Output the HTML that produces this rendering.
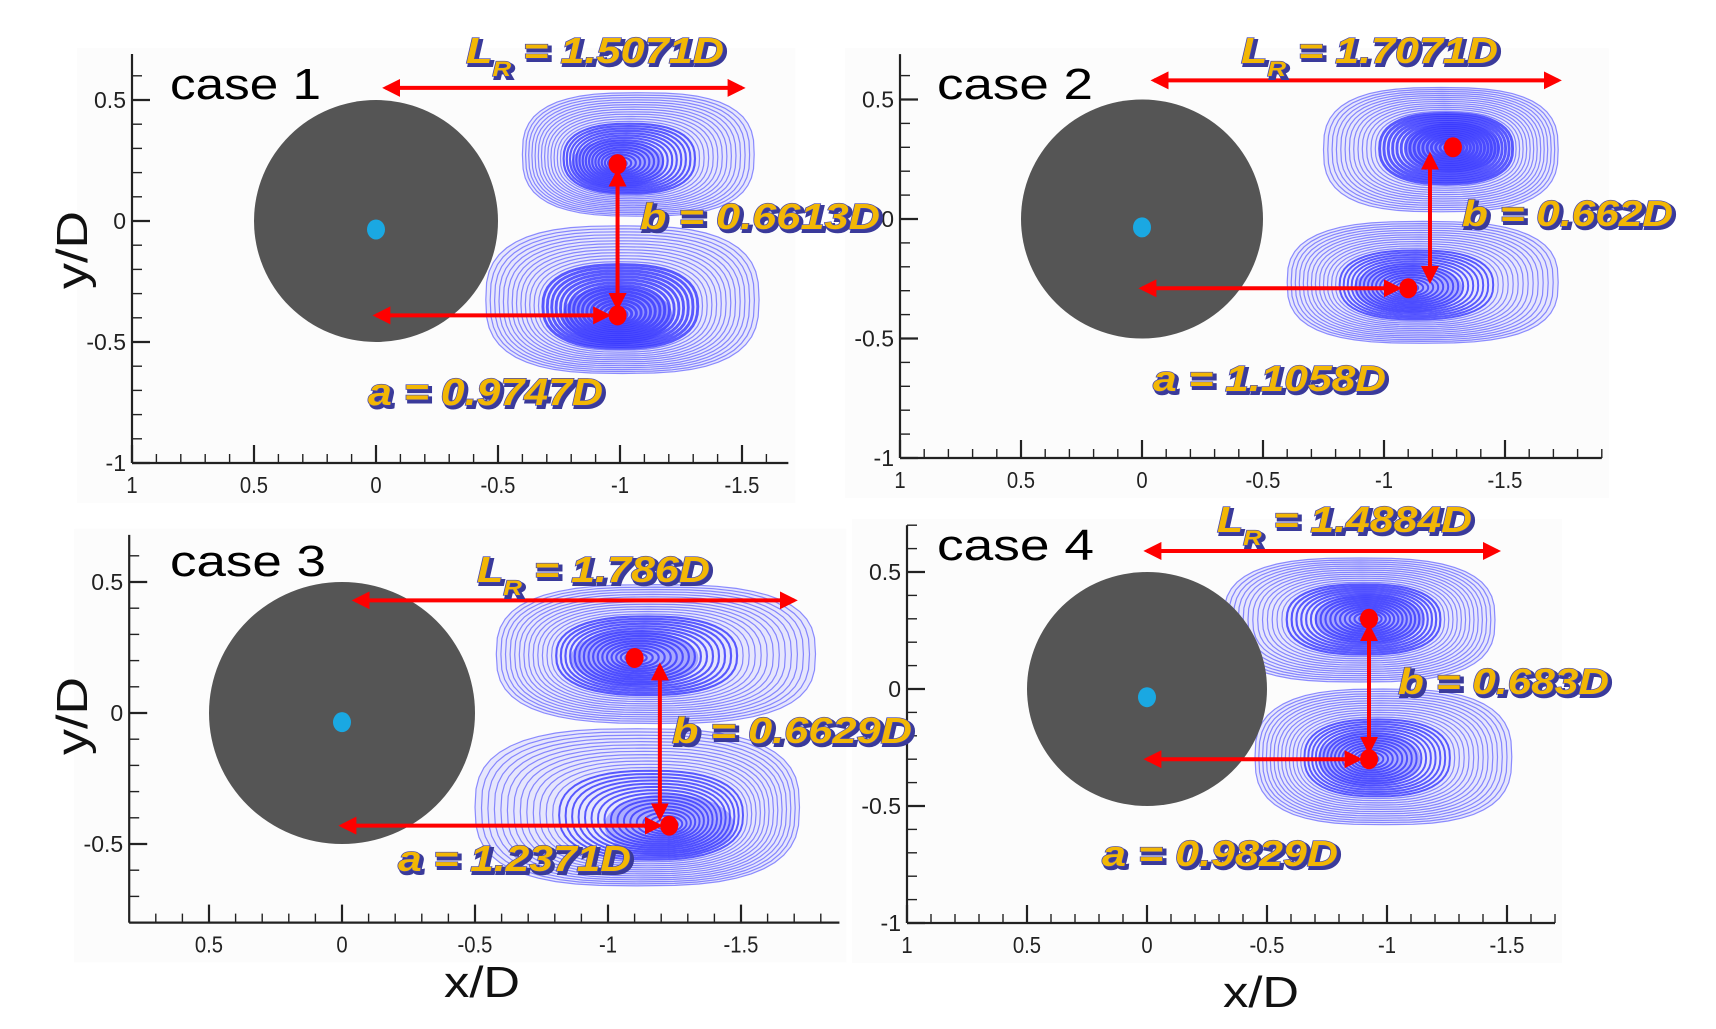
<!DOCTYPE html>
<html><head><meta charset="utf-8"><style>
html,body{margin:0;padding:0;background:#fff;}
svg{display:block;}
</style></head><body>
<svg id="fig" width="1716" height="1029" viewBox="0 0 1716 1029" xmlns="http://www.w3.org/2000/svg">
<defs>
<marker id="ah" viewBox="0 0 10 10" refX="8" refY="5" markerWidth="4.5" markerHeight="4.5" orient="auto-start-reverse"><path d="M0,0 L10,5 L0,10 z" fill="#ff0000"/></marker>
</defs>
<g id="bglayer"></g>
</svg>
<script>
// ---- data ----
const caseNames = ["case 1","case 2","case 3","case 4"];
const lrValues = [1.5071, 1.7071, 1.786, 1.4884];
const aValues = [0.9747, 1.1058, 1.2371, 0.9829];
const bValues = [0.6613, 0.662, 0.6629, 0.683];
const upperVortexX = [-0.99, -1.285, -1.10, -0.925];
const upperVortexY = [0.235, 0.30, 0.21, 0.30];
const lowerVortexX = [-0.99, -1.10, -1.23, -0.925];
const lowerVortexY = [-0.39, -0.29, -0.43, -0.30];
const bArrowX = [-0.99, -1.19, -1.195, -0.925];
const lrArrowY = [0.55, 0.58, 0.43, 0.59];
const lrArrowStart = [-0.04, -0.05, -0.05, 0.0];
const lrArrowEnd = [-1.50, -1.72, -1.70, -1.46];
// blob extents [xNear, xFar, yA, yB]
const upperBlob = [[-0.6,-1.55,0.53,0.02],[-0.75,-1.72,0.55,0.03],[-0.58,-1.78,0.49,-0.04],[-0.32,-1.45,0.56,0.03]];
const lowerBlob = [[-0.45,-1.57,-0.02,-0.63],[-0.6,-1.72,-0.01,-0.52],[-0.5,-1.72,-0.06,-0.66],[-0.45,-1.52,0.0,-0.58]];
const xTickLabels = [["1","0.5","0","-0.5","-1","-1.5"],["1","0.5","0","-0.5","-1","-1.5"],["0.5","0","-0.5","-1","-1.5"],["1","0.5","0","-0.5","-1","-1.5"]];
const xTickValues = [[1,0.5,0,-0.5,-1,-1.5],[1,0.5,0,-0.5,-1,-1.5],[0.5,0,-0.5,-1,-1.5],[1,0.5,0,-0.5,-1,-1.5]];
const yTickLabels = [["0.5","0","-0.5","-1"],["0.5","0","-0.5","-1"],["0.5","0","-0.5"],["0.5","0","-0.5","-1"]];
const yTickValues = [[0.5,0,-0.5,-1],[0.5,0,-0.5,-1],[0.5,0,-0.5],[0.5,0,-0.5,-1]];

// ---- layout (pixels) ----
const panels = [
 {x0:376,y0:221,sx:244,sy:242,xl:1,xr:-1.69,yt:0.69,yb:-1,
  caseT:[170,99,151,44],lrT:[466,63,258,36],bT:[640,229,240,36],aT:[368,405,235,38]},
 {x0:1142,y0:219,sx:242,sy:239,xl:1,xr:-1.9,yt:0.69,yb:-1,
  caseT:[937,99,156,44],lrT:[1241,63,257,36],bT:[1462,226,211,36],aT:[1153,391,233,36]},
 {x0:342,y0:713,sx:266,sy:262,xl:0.8,xr:-1.87,yt:0.68,yb:-0.8,
  caseT:[170,576,156,44],lrT:[477,582,233,36],bT:[672,743,240,36],aT:[398,871,233,36]},
 {x0:1147,y0:689,sx:240,sy:234,xl:1,xr:-1.7,yt:0.70,yb:-1,
  caseT:[937,560,157,44],lrT:[1217,532,255,36],bT:[1398,694,211,36],aT:[1102,866,236,36]}
];
const NS = "http://www.w3.org/2000/svg";
const svg = document.getElementById('fig');
const bgLayer = document.getElementById('bglayer');
function mk(tag, attrs, parent){
  const e = document.createElementNS(NS, tag);
  for (const k in attrs) e.setAttribute(k, attrs[k]);
  (parent||svg).appendChild(e);
  return e;
}
function goldText(g, str, sub, rest, x, y, len, size, name){
  for (let pass=0; pass<2; pass++){
    const t = mk('text', {x: x + (pass===0?2.5:0), y: y + (pass===0?2.5:0), 'font-family':'"Liberation Sans", sans-serif','font-weight':'bold','font-style':'italic','font-size':size, textLength:len, lengthAdjust:'spacingAndGlyphs',
      fill: pass===0 ? '#3a3a9a' : '#f2b705', stroke: pass===0 ? '#3a3a9a':'#4545b0', 'stroke-width': pass===0?3:1.3, 'paint-order':'stroke'}, g);
    
    
    if (sub){
      const s1 = mk('tspan', {}, t); s1.textContent = str;
      const s2 = mk('tspan', {'baseline-shift':'sub','font-size':size*0.6}, t); s2.textContent = sub;
      const s3 = mk('tspan', {'baseline-shift':'0'}, t); s3.textContent = rest;
    } else t.textContent = str;
  }
}
function arrow(g, x1,y1,x2,y2,name){
  const l = mk('line',{x1,y1,x2,y2,stroke:'#ff0000','stroke-width':4,'marker-start':'url(#ah)','marker-end':'url(#ah)'},g);
  
  
}
function superEllipse(cx,cy,rx,ry,p){
  let d='';
  for (let k=0;k<=48;k++){
    const t=k/48*2*Math.PI, c=Math.cos(t), s=Math.sin(t);
    const x=cx+rx*Math.sign(c)*Math.pow(Math.abs(c),2/p);
    const y=cy+ry*Math.sign(s)*Math.pow(Math.abs(s),2/p);
    d+=(k?'L':'M')+x.toFixed(1)+','+y.toFixed(1);
  }
  return d+'Z';
}
function drawVortex(g, P, px, py, blob, dark, name){
  const X = v => P.x0 - v*P.sx, Y = v => P.y0 - v*P.sy;
  const bcx = (X(blob[0])+X(blob[1]))/2, bcy = (Y(blob[2])+Y(blob[3]))/2;
  const brx = Math.abs(X(blob[1])-X(blob[0]))/2, bry = Math.abs(Y(blob[3])-Y(blob[2]))/2;
  const vx = X(px), vy = Y(py);
  const n = 30;
  const vg = mk('g',{},g);
  
  
  const fillShape = mk('path',{d:superEllipse(bcx,bcy,brx,bry,2.8),fill:'#4a4aff','fill-opacity':0.12},vg);
  
  
  for (let k=1;k<=n;k++){
    const f = k/n;
    const cx = vx + (bcx-vx)*f, cy = vy + (bcy-vy)*f;
    const e = mk('path',{d:superEllipse(cx,cy,brx*f,bry*f,2+0.8*f),fill:'none',stroke:'#3535ff','stroke-width': (f<0.6?1.8*dark:1.2),'stroke-opacity': f<0.6?0.8:0.55},vg);
    
    
  }
  const core = mk('ellipse',{cx:vx,cy:vy,rx:brx*0.4,ry:bry*0.4,fill:'#3a3aff','fill-opacity':0.3*dark},vg);
  
  
}
panels.forEach((P,i)=>{
  const X = v => P.x0 - v*P.sx, Y = v => P.y0 - v*P.sy;
  const bg = mk('rect',{x:X(P.xl)-55,y:Y(P.yt)-6,width:X(P.xr)-X(P.xl)+62,height:Y(P.yb)-Y(P.yt)+46,fill:'#fcfcfc'},bgLayer);
  
  
  const g = mk('g',{});
  
  
  drawVortex(g,P,upperVortexX[i],upperVortexY[i],upperBlob[i], i===1?1.6:1.2,'upper-vortex');
  drawVortex(g,P,lowerVortexX[i],lowerVortexY[i],lowerBlob[i], i===0?1.6:1.1,'lower-vortex');
  const c = mk('ellipse',{cx:X(0),cy:Y(0),rx:0.5*P.sx,ry:0.5*P.sy,fill:'#555555'},g);
  
  
  const cd = mk('ellipse',{cx:X(0),cy:Y(-0.035),rx:9,ry:10,fill:'#1aa8e2'},g);
  
  
  const ax = mk('g',{stroke:'#222','stroke-width':2.2},g);
  
  
  mk('line',{x1:X(P.xl),y1:Y(P.yb),x2:X(P.xr),y2:Y(P.yb)},ax);
  mk('line',{x1:X(P.xl),y1:Y(P.yb),x2:X(P.xl),y2:Y(P.yt)},ax);
  for (let t=Math.round(P.xl*10); t>=Math.ceil(P.xr*10); t--){
    const major = t%5===0;
    mk('line',{x1:X(t/10),y1:Y(P.yb),x2:X(t/10),y2:Y(P.yb)-(major?18:9),'stroke-width':major?2.2:1.4},ax);
  }
  for (let t=Math.round(P.yb*10); t<=Math.floor(P.yt*10); t++){
    const major = t%5===0;
    mk('line',{x1:X(P.xl),y1:Y(t/10),x2:X(P.xl)+(major?18:10),y2:Y(t/10),'stroke-width':major?2.2:1.4},ax);
  }
  xTickValues[i].forEach((v,j)=>{
    const t = mk('text',{x:X(v),y:Y(P.yb)+30,'text-anchor':'middle','font-family':'"Liberation Sans", sans-serif','font-size':23,fill:'#222',transform:`translate(${X(v)*0.12},0) scale(0.88,1)`},g);
    
    
    t.textContent = xTickLabels[i][j];
  });
  yTickValues[i].forEach((v,j)=>{
    const t = mk('text',{x:X(P.xl)-6,y:Y(v)+8,'text-anchor':'end','font-family':'"Liberation Sans", sans-serif','font-size':23,fill:'#222'},g);
    
    
    t.textContent = yTickLabels[i][j];
  });
  const cl = mk('text',{x:P.caseT[0],y:P.caseT[1],'font-family':'"Liberation Sans", sans-serif','font-size':P.caseT[3],textLength:P.caseT[2],lengthAdjust:'spacingAndGlyphs',fill:'#000'},g);
  
  
  cl.textContent = caseNames[i];
  arrow(g, X(lrArrowStart[i]), Y(lrArrowY[i]), X(lrArrowEnd[i]), Y(lrArrowY[i]), 'lr-arrow');
  arrow(g, X(0), Y(lowerVortexY[i]), X(lowerVortexX[i])-10, Y(lowerVortexY[i]), 'a-arrow');
  arrow(g, X(bArrowX[i]), Y(upperVortexY[i])+8, X(bArrowX[i]), Y(lowerVortexY[i])-8, 'b-arrow');
  [[upperVortexX[i],upperVortexY[i],'upper-vortex-center'],[lowerVortexX[i],lowerVortexY[i],'lower-vortex-center']].forEach(d=>{
    const e = mk('ellipse',{cx:X(d[0]),cy:Y(d[1]),rx:9,ry:10,fill:'#ff0000'},g);
    
    
  });
});
// annotations on top of all panels
panels.forEach((P,i)=>{
  const g = mk('g',{});
  
  
  goldText(g,'L','R',' = '+lrValues[i]+'D',P.lrT[0],P.lrT[1],P.lrT[2],P.lrT[3],'lr-annotation');
  goldText(g,'b = '+bValues[i]+'D',null,null,P.bT[0],P.bT[1],P.bT[2],P.bT[3],'b-annotation');
  goldText(g,'a = '+aValues[i]+'D',null,null,P.aT[0],P.aT[1],P.aT[2],P.aT[3],'a-annotation');
});
[[47,289,'y-axis-title-top'],[47,755,'y-axis-title-bottom']].forEach(d=>{
  const t = mk('text',{x:0,y:0,transform:`translate(${d[0]+40},${d[1]}) rotate(-90)`,'font-family':'"Liberation Sans", sans-serif','font-size':44,textLength:78,lengthAdjust:'spacingAndGlyphs',fill:'#111'});
  
  
  t.textContent = 'y/D';
});
[[444,997,'x-axis-title-left'],[1223,1007,'x-axis-title-right']].forEach(d=>{
  const t = mk('text',{x:d[0],y:d[1],'font-family':'"Liberation Sans", sans-serif','font-size':44,textLength:76,lengthAdjust:'spacingAndGlyphs',fill:'#111'});
  
  
  t.textContent = 'x/D';
});
</script>
</body></html>
